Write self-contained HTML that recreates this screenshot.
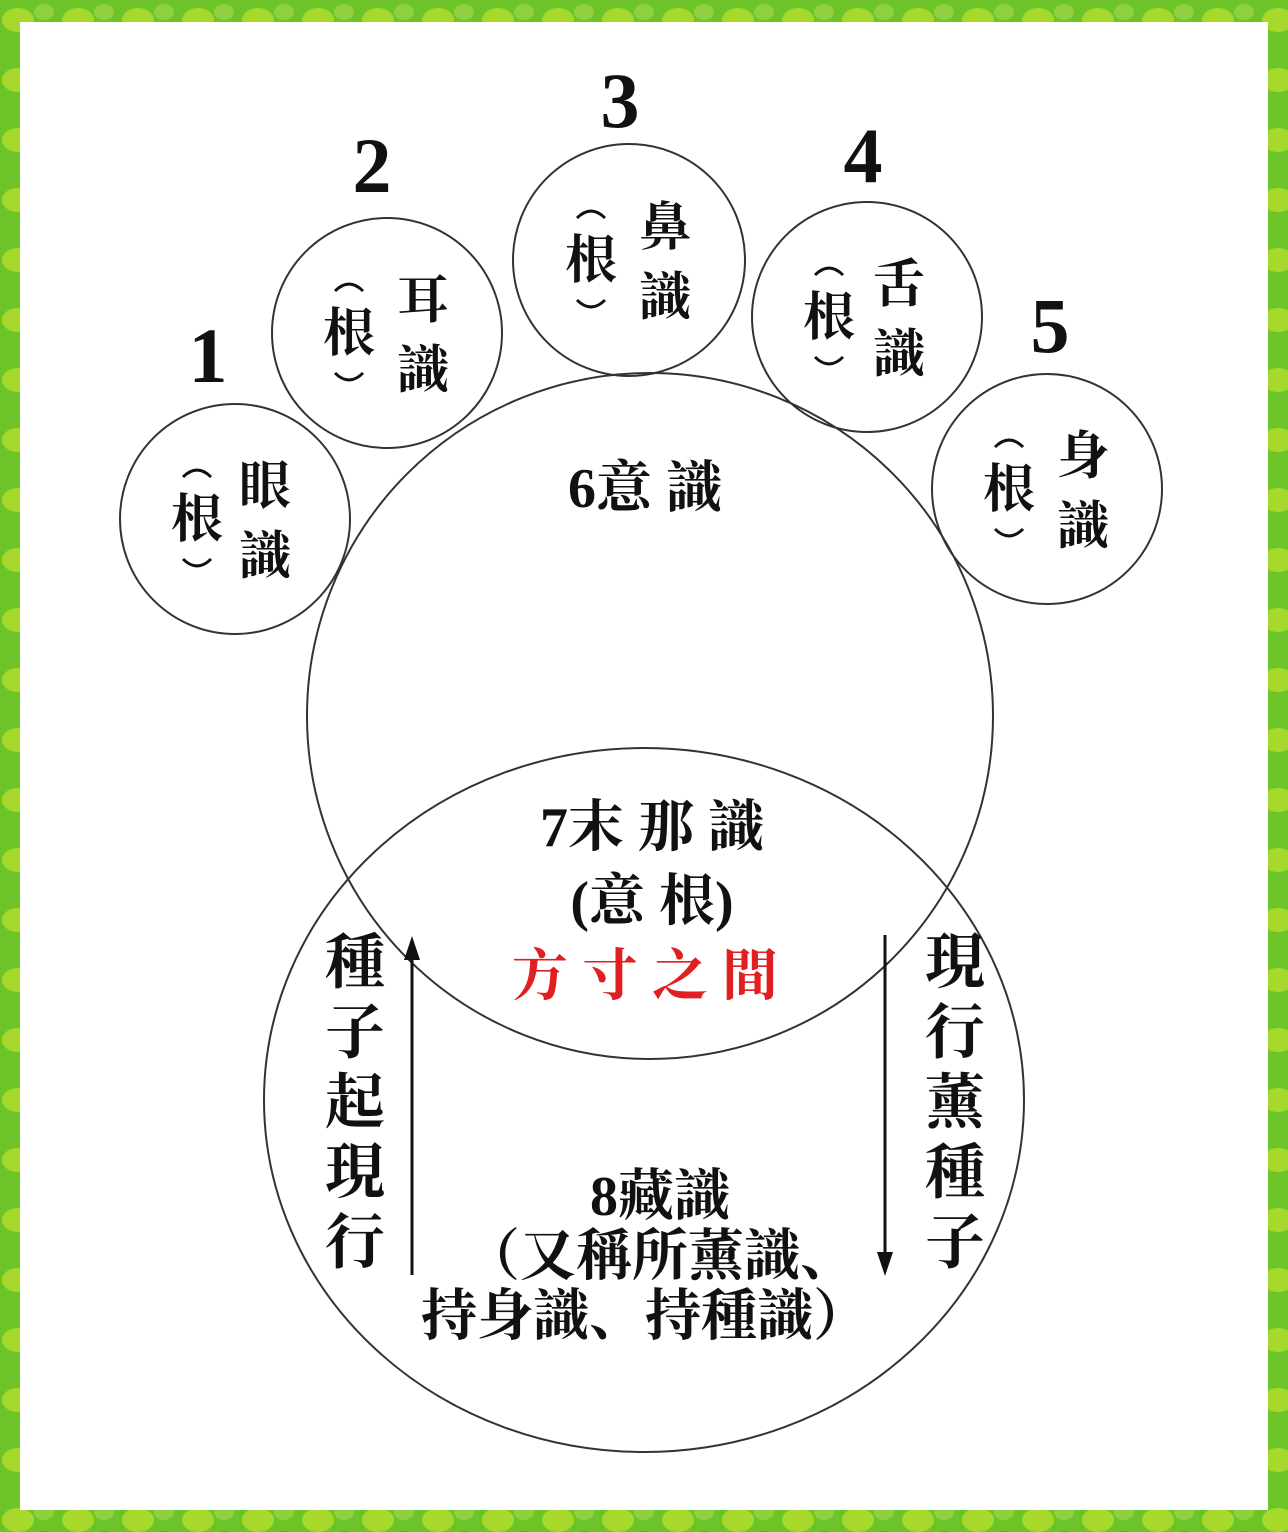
<!DOCTYPE html>
<html><head><meta charset="utf-8"><style>
html,body{margin:0;padding:0;background:#fff}
svg{display:block}
text{font-family:"Liberation Serif","Noto Serif CJK SC","Noto Sans CJK TC",serif;font-weight:bold;fill:#111}
</style></head><body>
<svg width="1288" height="1532" viewBox="0 0 1288 1532" xmlns="http://www.w3.org/2000/svg">
<defs>
<pattern id="lv" width="60" height="60" patternUnits="userSpaceOnUse">
<rect width="60" height="60" fill="#6cc428"/>
<ellipse cx="18" cy="20" rx="16" ry="12" fill="#a6d92c"/>
<ellipse cx="45" cy="42" rx="15" ry="11" fill="#4fb020"/>
<ellipse cx="44" cy="12" rx="10" ry="8" fill="#8fd040"/>
</pattern>
</defs>
<rect x="0" y="0" width="1288" height="1532" fill="url(#lv)"/>
<rect x="20" y="22" width="1248" height="1488" fill="#fff"/>
<g fill="none" stroke="#333" stroke-width="2">
<circle cx="235" cy="519" r="115"/>
<circle cx="387" cy="333" r="115"/>
<circle cx="629" cy="260" r="116"/>
<circle cx="867" cy="317" r="115"/>
<circle cx="1047" cy="489" r="115"/>
<circle cx="650" cy="716" r="343"/>
<ellipse cx="644" cy="1100" rx="380" ry="352"/>
</g>
<g stroke="#111" stroke-width="3">
<line x1="412" y1="1275" x2="412" y2="955"/>
<line x1="885" y1="935" x2="885" y2="1258"/>
</g>
<polygon points="412,936 404,960 420,960" fill="#111"/>
<polygon points="885,1276 877,1252 893,1252" fill="#111"/>
<g font-size="78" text-anchor="middle">
<text x="208" y="382">1</text>
<text x="372" y="192">2</text>
<text x="620" y="127">3</text>
<text x="863" y="182">4</text>
<text x="1050" y="352">5</text>
</g>
<!-- small circles: (根) + two chars -->
<g font-size="52" text-anchor="middle">
<g transform="translate(235,519)">
<path d="M-52,-42 Q-38,-56 -24,-42 M-52,40 Q-38,54 -24,40" fill="none" stroke="#111" stroke-width="3"/>
<text x="-38" y="18">根</text><text x="30" y="-15">眼</text><text x="30" y="55">識</text></g>
<g transform="translate(387,333)">
<path d="M-52,-42 Q-38,-56 -24,-42 M-52,40 Q-38,54 -24,40" fill="none" stroke="#111" stroke-width="3"/>
<text x="-38" y="18">根</text><text x="36" y="-15">耳</text><text x="36" y="55">識</text></g>
<g transform="translate(629,260)">
<path d="M-52,-42 Q-38,-56 -24,-42 M-52,40 Q-38,54 -24,40" fill="none" stroke="#111" stroke-width="3"/>
<text x="-38" y="18">根</text><text x="36" y="-15">鼻</text><text x="36" y="55">識</text></g>
<g transform="translate(867,317)">
<path d="M-52,-42 Q-38,-56 -24,-42 M-52,40 Q-38,54 -24,40" fill="none" stroke="#111" stroke-width="3"/>
<text x="-38" y="18">根</text><text x="32" y="-15">舌</text><text x="32" y="55">識</text></g>
<g transform="translate(1047,489)">
<path d="M-52,-42 Q-38,-56 -24,-42 M-52,40 Q-38,54 -24,40" fill="none" stroke="#111" stroke-width="3"/>
<text x="-38" y="18">根</text><text x="36" y="-15">身</text><text x="36" y="55">識</text></g>
</g>
<g font-size="56" text-anchor="middle">
<text x="645" y="507">6意 識</text>
<text x="652" y="846">7末 那 識</text>
<text x="652" y="920">(意 根)</text>
<text x="645" y="995" style="fill:#e02020">方 寸 之 間</text>
<text x="660" y="1215">8藏識</text>
<text x="660" y="1275">（又稱所薰識、</text>
<text x="645" y="1335">持身識、持種識）</text>
</g>
<g font-size="60" text-anchor="middle">
<text x="355" y="983">種</text><text x="355" y="1053">子</text><text x="355" y="1123">起</text><text x="355" y="1193">現</text><text x="355" y="1263">行</text>
<text x="955" y="983">現</text><text x="955" y="1053">行</text><text x="955" y="1123">薰</text><text x="955" y="1193">種</text><text x="955" y="1263">子</text>
</g>
</svg>
</body></html>
